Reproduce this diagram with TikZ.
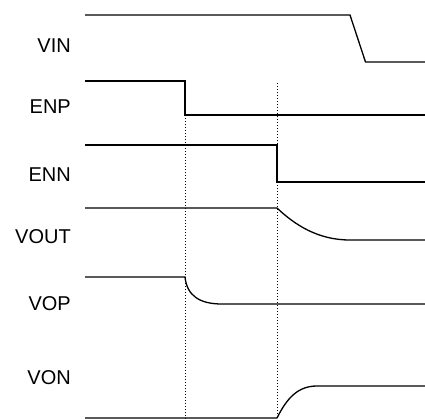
\documentclass[tikz,border=0pt]{standalone}
\usepackage{fontspec}
\setmainfont{Liberation Sans}
\begin{document}
\begin{tikzpicture}[x=1bp,y=-1bp,
  sig/.style={line width=1.3bp,black},
  guide/.style={line width=1bp,black,dash pattern=on 1.3bp off 1.7bp},
  lbl/.style={anchor=base east,inner sep=0pt,font=\fontsize{20bp}{24bp}\selectfont}]
\useasboundingbox (0,0) rectangle (425,419);
% labels
\node[lbl] (lvin) at (71,52.7) {VIN};
\node[lbl] (lenp) at (71,113) {ENP};
\node[lbl] (lenn) at (71,181.7) {ENN};
\node[lbl] (lvout) at (71,243.7) {VOUT};
\node[lbl] (lvop) at (71,310) {VOP};
\node[lbl] (lvon) at (71,384.3) {VON};
% guides
\coordinate (g1t) at (185,115); \coordinate (g1b) at (185,419);
\coordinate (g2t) at (277,83);  \coordinate (g2b) at (277,419);
\draw[guide] (g1t) -- (g1b);
\draw[guide] (g2t) -- (g2b);
% VIN
\draw[sig] (85,15) -- (350,15) -- (365.5,62) -- (425,62);
% ENP
\draw[sig] (85,81) -- (185,81) -- (185,115) -- (425,115);
% ENN
\draw[sig] (85,145) -- (277,145) -- (277,182) -- (425,182);
% VOUT
\draw[sig] (85,208) -- (277,208) .. controls (295,225) and (318,240) .. (350,240) -- (425,240);
% VOP
\draw[sig] (85,277) -- (185,277) .. controls (187,296) and (200,304) .. (222,304) -- (425,304);
% VON
\draw[sig] (85,418) -- (277,418) .. controls (287,398) and (298,386) .. (317,386) -- (425,386);
\end{tikzpicture}
\end{document}
